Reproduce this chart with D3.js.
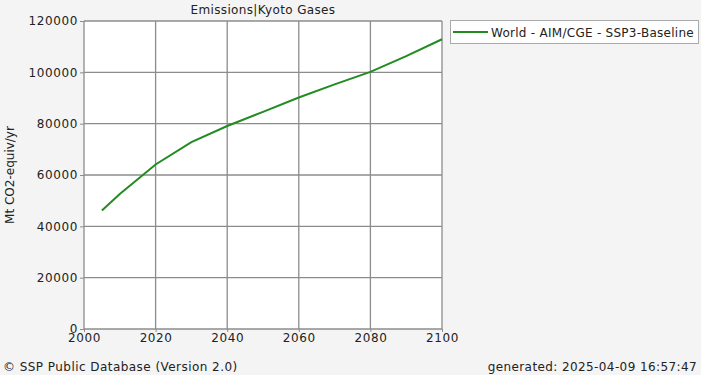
<!DOCTYPE html>
<html>
<head>
<meta charset="utf-8">
<script src="https://cdn.jsdelivr.net/npm/d3@7"></script>
<style>
  body { margin: 0; background: #f4f4f4; }
  svg { display: block; font-family: "DejaVu Sans", sans-serif; }
</style>
</head>
<body>
<div id="chart"></div>
<script>
const years = [2005, 2010, 2020, 2030, 2040, 2050, 2060, 2070, 2080, 2090, 2100];
const emissions = [46200, 52600, 64100, 72800, 79100, 84600, 90200, 95300, 100200, 106300, 112900];
const xTicks = [2000, 2020, 2040, 2060, 2080, 2100];
const yTicks = [0, 20000, 40000, 60000, 80000, 100000, 120000];
const seriesName = "World - AIM/CGE - SSP3-Baseline";

const WIDTH = 701, HEIGHT = 375;
const margins = { top: 21, bottom: 46, left: 84, right: 259 };

const svg = d3.select("#chart").append("svg")
  .attr("width", WIDTH).attr("height", HEIGHT);

svg.append("rect").attr("width", WIDTH).attr("height", HEIGHT).attr("fill", "#f4f4f4");

const x = d3.scaleLinear().domain([2000, 2100])
  .range([margins.left, WIDTH - margins.right]);
const y = d3.scaleLinear().domain([0, 120000])
  .range([HEIGHT - margins.bottom, margins.top]);

// area del grafico
svg.append("rect")
  .attr("x", x(2000)).attr("y", y(120000))
  .attr("width", x(2100) - x(2000)).attr("height", y(0) - y(120000))
  .attr("fill", "white");

// grilla
svg.append("g").selectAll("line").data(xTicks).join("line")
  .attr("x1", d => x(d)).attr("x2", d => x(d))
  .attr("y1", y(120000)).attr("y2", y(0))
  .attr("stroke", "#8c8c8c").attr("stroke-width", 1.3);
svg.append("g").selectAll("line").data(yTicks).join("line")
  .attr("x1", x(2000)).attr("x2", x(2100))
  .attr("y1", d => y(d)).attr("y2", d => y(d))
  .attr("stroke", "#8c8c8c").attr("stroke-width", 1.3);

// ejes
const ejeX = svg.append("g")
  .attr("transform", `translate(0,${y(0)})`)
  .call(d3.axisBottom(x).tickValues(xTicks).tickFormat(d3.format("d")).tickSize(3).tickPadding(1));
const ejeY = svg.append("g")
  .attr("transform", `translate(${x(2000)},0)`)
  .call(d3.axisLeft(y).tickValues(yTicks).tickFormat(d3.format("d")).tickSize(4).tickPadding(2));
[ejeX, ejeY].forEach(g => {
  g.select(".domain").remove();
  g.selectAll("line").attr("stroke", "#8c8c8c");
  g.selectAll("text").attr("fill", "#222").style("font-size", "12px")
    .style("letter-spacing", "0.6px")
    .style("font-family", "DejaVu Sans, sans-serif");
});

// linea
const line = d3.line().x((d, i) => x(years[i])).y(d => y(d));
svg.append("path").datum(emissions)
  .attr("d", line)
  .attr("fill", "none")
  .attr("stroke", "#228b22")
  .attr("stroke-width", 2);

// titulo
svg.append("text").attr("x", (x(2000) + x(2100)) / 2).attr("y", 14)
  .attr("text-anchor", "middle").style("font-size", "12px").style("letter-spacing", "0.35px")
  .attr("fill", "#222")
  .text("Emissions|Kyoto Gases");

// etiqueta eje y
svg.append("text")
  .attr("transform", `translate(14,${(y(0) + y(120000)) / 2}) rotate(-90)`)
  .attr("text-anchor", "middle").style("font-size", "12px").attr("fill", "#222")
  .text("Mt CO2-equiv/yr");

// leyenda
const leyenda = svg.append("g").attr("transform", "translate(450,20)");
leyenda.append("rect").attr("x", 0.5).attr("y", 0.5).attr("width", 248).attr("height", 23)
  .attr("fill", "white").attr("stroke", "#aaa");
leyenda.append("line").attr("x1", 3).attr("x2", 38).attr("y1", 12).attr("y2", 12)
  .attr("stroke", "#228b22").attr("stroke-width", 2);
leyenda.append("text").attr("x", 41).attr("y", 16.5)
  .style("font-size", "12px").style("letter-spacing", "0.27px")
  .attr("fill", "#222").text(seriesName);

// pie
svg.append("text").attr("x", 3).attr("y", 371)
  .style("font-size", "12px").style("letter-spacing", "0.45px").attr("fill", "#222")
  .text("© SSP Public Database (Version 2.0)");
svg.append("text").attr("x", 697).attr("y", 371).attr("text-anchor", "end")
  .style("font-size", "12px").style("letter-spacing", "0.4px").attr("fill", "#222")
  .text("generated: 2025-04-09 16:57:47");
</script>
</body>
</html>
